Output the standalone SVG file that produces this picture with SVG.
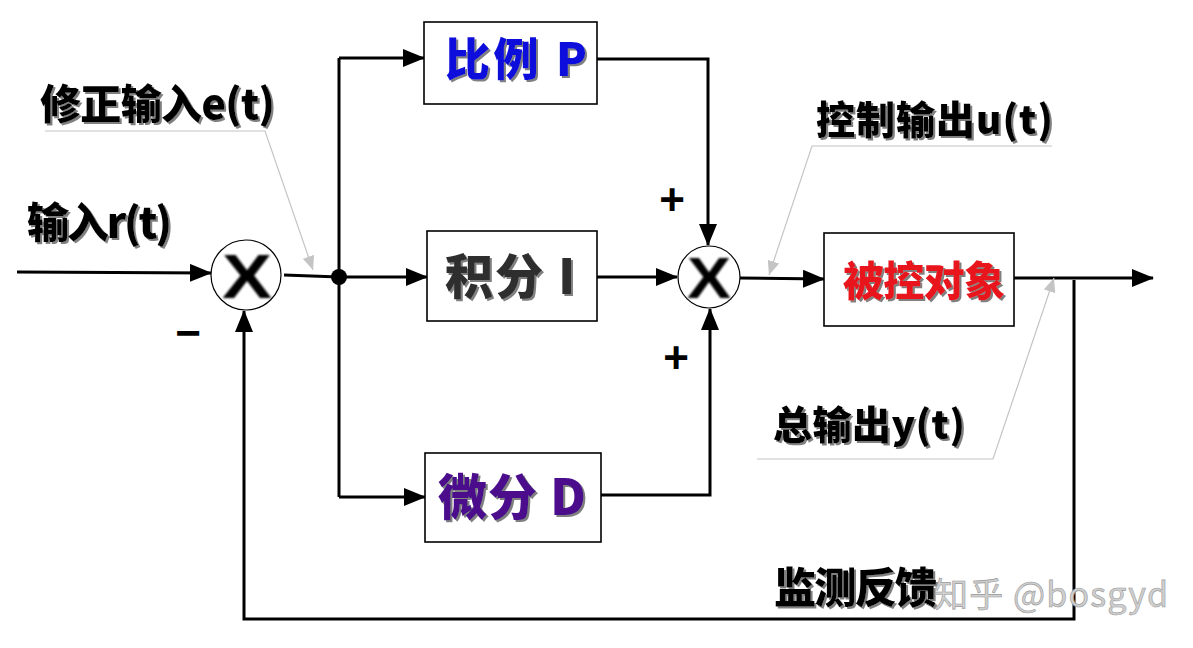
<svg xmlns="http://www.w3.org/2000/svg" width="1193" height="648" viewBox="0 0 1193 648">
<style>
.box{fill:#fff;stroke:#000;stroke-width:1.6}
.sum{fill:#fff;stroke:#000;stroke-width:1.2}
.wire{fill:none;stroke:#000;stroke-width:3;stroke-linejoin:miter}
.lead{fill:none;stroke:#c4c4c4;stroke-width:1.2}
.lbl{font-family:'Noto Sans CJK SC','Noto Sans',sans-serif;font-weight:900;fill:#000;filter:url(#shadow)}
.sym{font-family:'Liberation Sans',Arial,sans-serif;fill:#000}
</style>
<defs>
<marker id="arr" markerUnits="userSpaceOnUse" markerWidth="22" markerHeight="18" refX="21" refY="9" orient="auto">
<path d="M0,0 L22,9 L0,18 z" fill="#000"/>
</marker>
<marker id="garr" markerUnits="userSpaceOnUse" markerWidth="14" markerHeight="12" refX="14" refY="6" orient="auto">
<path d="M0,0 L14,6 L0,12 z" fill="#c4c4c4"/>
</marker>
<filter id="soft" x="-10%" y="-10%" width="120%" height="120%"><feGaussianBlur stdDeviation="0.9"/></filter>
<filter id="shadow" x="-5%" y="-10%" width="115%" height="130%">
<feOffset in="SourceAlpha" dx="1.5" dy="1.5" result="o"/>
<feFlood flood-color="#808080"/>
<feComposite in2="o" operator="in" result="s"/>
<feMerge><feMergeNode in="s"/><feMergeNode in="SourceGraphic"/></feMerge>
</filter>
</defs>
<rect width="1193" height="648" fill="#fff"/>

<g id="connectors">
<path class="wire" d="M17,272 L211,273" marker-end="url(#arr)"/>
<path class="wire" d="M284,275 L339,277"/>
<path class="wire" d="M339,58 L339,497"/>
<path class="wire" d="M339,58 L424,58" marker-end="url(#arr)"/>
<path class="wire" d="M339,277 L427,277" marker-end="url(#arr)"/>
<path class="wire" d="M339,497 L425,497" marker-end="url(#arr)"/>
<path class="wire" d="M597,59 L708,59 L708,245" marker-end="url(#arr)"/>
<path class="wire" d="M597,277 L677,277" marker-end="url(#arr)"/>
<path class="wire" d="M601,495 L710,495 L710,309" marker-end="url(#arr)"/>
<path class="wire" d="M740,278 L824,279" marker-end="url(#arr)"/>
<path class="wire" d="M1014,278 L1153,278" marker-end="url(#arr)"/>
<path class="wire" d="M1074,280 L1074,619 L244,619 L244,311" marker-end="url(#arr)"/>
<circle cx="339" cy="277" r="8" fill="#000"/>
<path class="lead" d="M45,131 L265,131 L313,270" marker-end="url(#garr)"/>
<path class="lead" d="M1052,146 L812,146 L769,275" marker-end="url(#garr)"/>
<path class="lead" d="M757,459 L993,459 L1054,278" marker-end="url(#garr)"/>
</g>

<g id="sum1">
<circle class="sum" cx="246" cy="275" r="35"/>
<text class="sym" x="222" y="298" font-size="63" font-weight="bold" textLength="50" lengthAdjust="spacingAndGlyphs" filter="url(#soft)">X</text>
</g>
<g id="sum2">
<circle class="sum" cx="709" cy="277" r="31"/>
<text class="sym" x="687" y="298" font-size="58" font-weight="bold" textLength="44" lengthAdjust="spacingAndGlyphs" filter="url(#soft)">X</text>
</g>

<g id="nodeP">
<rect class="box" x="424" y="22" width="173" height="82"/>
<text class="lbl" x="445" y="76" font-size="45" textLength="142" style="fill:#0c0cdc">比例 P</text>
</g>
<g id="nodeI">
<rect class="box" x="427" y="231" width="170" height="90"/>
<text class="lbl" x="445" y="294" font-size="48" textLength="130" style="fill:#2d2d2d">积分 I</text>
</g>
<g id="nodeD">
<rect class="box" x="425" y="453" width="176" height="89"/>
<text class="lbl" x="438" y="515" font-size="49" textLength="148" style="fill:#4b0a8c">微分 D</text>
</g>
<g id="plant">
<rect class="box" x="824" y="233" width="190" height="93"/>
<text class="lbl" x="843" y="296" font-size="41" textLength="162" style="fill:#e8141c">被控对象</text>
</g>

<g id="labels">
<text class="lbl" x="40" y="119" font-size="41" textLength="235">修正输入e(t)</text>
<text class="lbl" x="27" y="238" font-size="42" textLength="145">输入r(t)</text>
<text class="lbl" x="816" y="134" font-size="39" textLength="237">控制输出u(t)</text>
<text class="lbl" x="773" y="439" font-size="39" textLength="192">总输出y(t)</text>
<text class="lbl" x="774" y="603" font-size="42" textLength="163">监测反馈</text>
<text class="sym" x="672" y="215" font-size="44" font-weight="bold" text-anchor="middle">+</text>
<text class="sym" x="676" y="373" font-size="44" font-weight="bold" text-anchor="middle">+</text>
<text class="sym" x="188" y="348" font-size="44" font-weight="bold" text-anchor="middle">−</text>
<text x="934" y="607" font-family="'Noto Sans CJK SC','Noto Sans',sans-serif" font-size="34" textLength="234" fill="#cfcfcf" stroke="#9a9a9a" stroke-width="0.6">知乎 @bosgyd</text>
</g>
</svg>
